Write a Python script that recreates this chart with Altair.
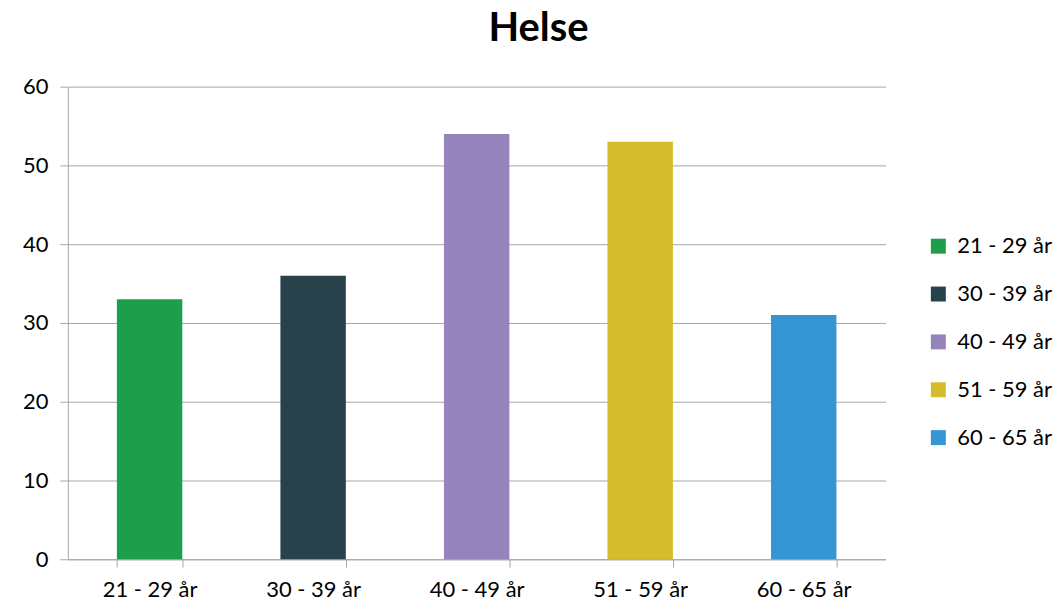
import altair as alt
import pandas as pd

categories = ["21 - 29 år", "30 - 39 år", "40 - 49 år", "51 - 59 år", "60 - 65 år"]
values = [33, 36, 54, 53, 31]
colors = ["#1d9e4a", "#27424a", "#9584bb", "#d4bc2c", "#3596d3"]

df = pd.DataFrame({"Gruppe": categories, "Verdi": values})

FONT = "Lato"

chart = alt.Chart(df).mark_bar().encode(
    x=alt.X("Gruppe:N", sort=categories,
            scale=alt.Scale(paddingInner=0.6, paddingOuter=0.3),
            axis=alt.Axis(title=None, labelAngle=0, tickBand="extent", tickSize=8,
                          labelPadding=12, labelFontSize=22, labelFont=FONT,
                          labelColor="#000000", domainColor="#a6a6a6",
                          tickColor="#a6a6a6", grid=False)),
    y=alt.Y("Verdi:Q", scale=alt.Scale(domain=[0, 60]),
            axis=alt.Axis(title=None, values=[0, 10, 20, 30, 40, 50, 60], tickSize=8,
                          labelPadding=12, labelFontSize=22, labelFont=FONT,
                          labelColor="#000000", domainColor="#a6a6a6",
                          tickColor="#a6a6a6", grid=True, gridColor="#a6a6a6")),
    color=alt.Color("Gruppe:N", sort=categories,
                    scale=alt.Scale(domain=categories, range=colors),
                    legend=alt.Legend(title=None, orient="none", legendX=862, legendY=149,
                                      symbolType="square", symbolSize=225,
                                      symbolStrokeWidth=0, labelFontSize=22,
                                      labelFont=FONT, labelColor="#000000",
                                      rowPadding=26, labelOffset=8)),
).properties(
    width=820, height=474,
    background="#ffffff",
    title=alt.TitleParams("Helse", fontSize=40, font=FONT, fontWeight="bold",
                          anchor="middle", dx=62, offset=27, color="#000000"),
    padding={"left": 60, "top": 78, "right": 170, "bottom": 45},
    autosize=alt.AutoSizeParams(type="none"),
).configure_view(stroke=None)

chart.save("out.html", embed_options={"renderer": "svg", "actions": False})
